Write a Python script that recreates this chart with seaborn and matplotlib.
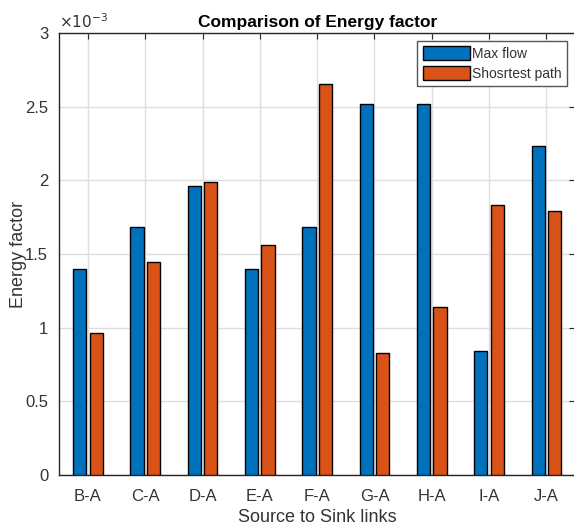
import matplotlib
matplotlib.use("Agg")
import matplotlib.pyplot as plt
import matplotlib.ticker as mticker
import numpy as np
import pandas as pd
import seaborn as sns

# Source-to-sink links and energy factor for each routing strategy
links = ["B-A", "C-A", "D-A", "E-A", "F-A", "G-A", "H-A", "I-A", "J-A"]
max_flow = [1.40e-3, 1.68e-3, 1.96e-3, 1.40e-3, 1.68e-3, 2.52e-3, 2.52e-3, 0.84e-3, 2.23e-3]
shortest_path = [0.965e-3, 1.445e-3, 1.99e-3, 1.56e-3, 2.655e-3, 0.826e-3, 1.14e-3, 1.83e-3, 1.79e-3]
series_names = ["Max flow", "Shosrtest path"]
y_ticks = [0, 0.5e-3, 1.0e-3, 1.5e-3, 2.0e-3, 2.5e-3, 3.0e-3]

df = pd.DataFrame({
    "link": links * 2,
    "value": max_flow + shortest_path,
    "series": [series_names[0]] * len(links) + [series_names[1]] * len(links),
})

sns.set_theme(style="white")
plt.rcParams["font.family"] = ["Liberation Sans", "DejaVu Sans"]

text_col = "#333333"
fig = plt.figure(figsize=(5.74, 5.31), dpi=100)
ax = fig.add_axes([59.3 / 574, 56 / 531, 515.7 / 574, 442 / 531])

sns.barplot(
    data=df, x="link", y="value", hue="series", order=links,
    hue_order=series_names, palette=["#0072BD", "#D95319"],
    width=0.57, gap=0.19, edgecolor="black", linewidth=1.0,
    saturation=1, ax=ax, zorder=3,
)

ax.set_xlim(-0.5, 8.5)
ax.set_ylim(0, 3.0e-3)
ax.set_yticks(y_ticks)
ax.yaxis.set_major_formatter(mticker.FuncFormatter(lambda v, p: f"{v * 1e3:g}"))
ax.text(0.0, 1.004, r"$\times10^{-3}$", transform=ax.transAxes,
        ha="left", va="bottom", fontsize=11, color=text_col)

ax.grid(True, color="#dedede", linewidth=1.0, zorder=0)
ax.set_axisbelow(True)
for s in ax.spines.values():
    s.set_color("#262626")
    s.set_linewidth(1.0)
    s.set_visible(True)
ax.tick_params(axis="both", which="both", direction="in", length=4, width=0.8,
               colors="#262626", labelcolor=text_col, labelsize=12,
               top=True, right=True, labeltop=False, labelright=False, pad=8)
ax.tick_params(axis="x", pad=10)

ax.set_title("Comparison of Energy factor", fontsize=12.5, fontweight="bold",
             color="black", pad=4)
ax.set_xlabel("Source to Sink links", fontsize=13, color=text_col, labelpad=4)
ax.set_ylabel("Energy factor", fontsize=13, color=text_col)
ax.yaxis.set_label_coords(-0.062, 0.5)

handles, labels = ax.get_legend_handles_labels()
leg = ax.legend(handles, labels, loc="upper right",
                bbox_to_anchor=(0.9845, 0.9826), borderaxespad=0,
                fontsize=10, handlelength=3.4, handleheight=1.2,
                handletextpad=0.15, borderpad=0.4, labelspacing=0.35,
                fancybox=False, framealpha=1, edgecolor="#555555")
leg.get_frame().set_linewidth(1.0)
for t in leg.get_texts():
    t.set_color(text_col)

fig.savefig("out.png", dpi=100)
